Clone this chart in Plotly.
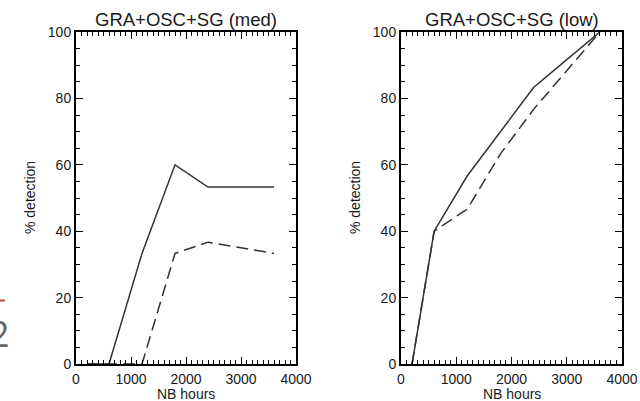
import plotly.graph_objects as go

# ---- data ----
hours = [200, 600, 1200, 1800, 2400, 3000, 3600]

med_solid = [0, 0, 33.3, 60.0, 53.3, 53.3, 53.3]
med_dashed = [0, 0, 0, 33.3, 36.7, 35.0, 33.3]

low_solid = [0, 40.0, 56.7, 70.0, 83.3, 91.7, 100.0]
low_dashed = [0, 40.0, 46.7, 63.3, 76.7, 88.3, 100.0]

titles = ["GRA+OSC+SG (med)", "GRA+OSC+SG (low)"]
x_title = "NB hours"
y_title = "% detection"
x_ticks = [0, 1000, 2000, 3000, 4000]
y_ticks = [0, 20, 40, 60, 80, 100]

W, H = 640, 401
LINE = "#333333"
TXT = "#1a1a1a"
FONT = "Liberation Sans, Arial, sans-serif"

# plot frames in pixels: (left, right)
frames = [(76, 296), (401, 622)]
top_px, bot_px = 32, 364

fig = go.Figure()

panels = [(med_solid, med_dashed), (low_solid, low_dashed)]
for i, (solid, dashed) in enumerate(panels):
    xa = "x" if i == 0 else "x2"
    ya = "y" if i == 0 else "y2"
    fig.add_trace(go.Scatter(x=hours, y=solid, mode="lines",
                             line=dict(color=LINE, width=1.5),
                             xaxis=xa, yaxis=ya, showlegend=False))
    fig.add_trace(go.Scatter(x=hours, y=dashed, mode="lines",
                             line=dict(color=LINE, width=1.5, dash="12px,6px"),
                             xaxis=xa, yaxis=ya, showlegend=False))

def xaxis_cfg(l, r, anchor):
    return dict(domain=[l / W, r / W], range=[0, 4000], tickvals=x_ticks, anchor=anchor,
                ticks="inside", ticklen=7, tickwidth=1.3, tickcolor="black",
                minor=dict(dtick=100, ticks="inside", ticklen=4, tickwidth=1, tickcolor="black"),
                showline=True, linewidth=2, linecolor="black", mirror="ticks",
                showgrid=False, zeroline=False, automargin=False,
                tickfont=dict(family=FONT, size=14, color=TXT),
                ticklabelstandoff=1)

def yaxis_cfg(anchor):
    return dict(domain=[(H - bot_px) / H, (H - top_px) / H], range=[0, 100],
                tickvals=y_ticks, anchor=anchor,
                ticks="inside", ticklen=7, tickwidth=1.3, tickcolor="black",
                minor=dict(dtick=5, ticks="inside", ticklen=4, tickwidth=1, tickcolor="black"),
                showline=True, linewidth=2, linecolor="black", mirror="ticks",
                showgrid=False, zeroline=False, automargin=False,
                tickfont=dict(family=FONT, size=14, color=TXT),
                ticklabelstandoff=0)

annotations = []
for i, (l, r) in enumerate(frames):
    cx = (l + r) / 2
    annotations.append(dict(text=titles[i], x=cx / W, y=1 - 19 / H, xref="paper", yref="paper",
                            xanchor="center", yanchor="middle", showarrow=False,
                            font=dict(family=FONT, size=18.5, color=TXT)))
    annotations.append(dict(text=x_title, x=cx / W, y=1 - 394 / H, xref="paper", yref="paper",
                            xanchor="center", yanchor="middle", showarrow=False,
                            font=dict(family=FONT, size=14, color=TXT)))
    annotations.append(dict(text=y_title, x=(l - 46) / W, y=1 - 198 / H, xref="paper", yref="paper",
                            xanchor="center", yanchor="middle", showarrow=False, textangle=-90,
                            font=dict(family=FONT, size=14, color=TXT)))

# fragment of slide visible at the left edge
annotations.append(dict(text="2", x=11 / W, y=1 - 333 / H, xref="paper", yref="paper",
                        xanchor="right", yanchor="middle", showarrow=False, borderpad=0,
                        font=dict(family="Open Sans, sans-serif", size=36, color="#666666")))

fig.update_layout(
    width=W, height=H,
    margin=dict(l=0, r=0, t=0, b=0, autoexpand=False),
    paper_bgcolor="white", plot_bgcolor="white",
    xaxis=xaxis_cfg(*frames[0], "y"),
    yaxis=yaxis_cfg("x"),
    xaxis2=xaxis_cfg(*frames[1], "y2"),
    yaxis2=yaxis_cfg("x2"),
    annotations=annotations,
    shapes=[dict(type="line", xref="paper", yref="paper", x0=0, x1=5 / W,
                 y0=1 - 300.5 / H, y1=1 - 300.5 / H, line=dict(color="#b5483a", width=2))],
)

fig.write_html("out.html", config={"displayModeBar": False},
               post_script="document.body.style.margin='0';document.body.style.overflow='hidden';")
